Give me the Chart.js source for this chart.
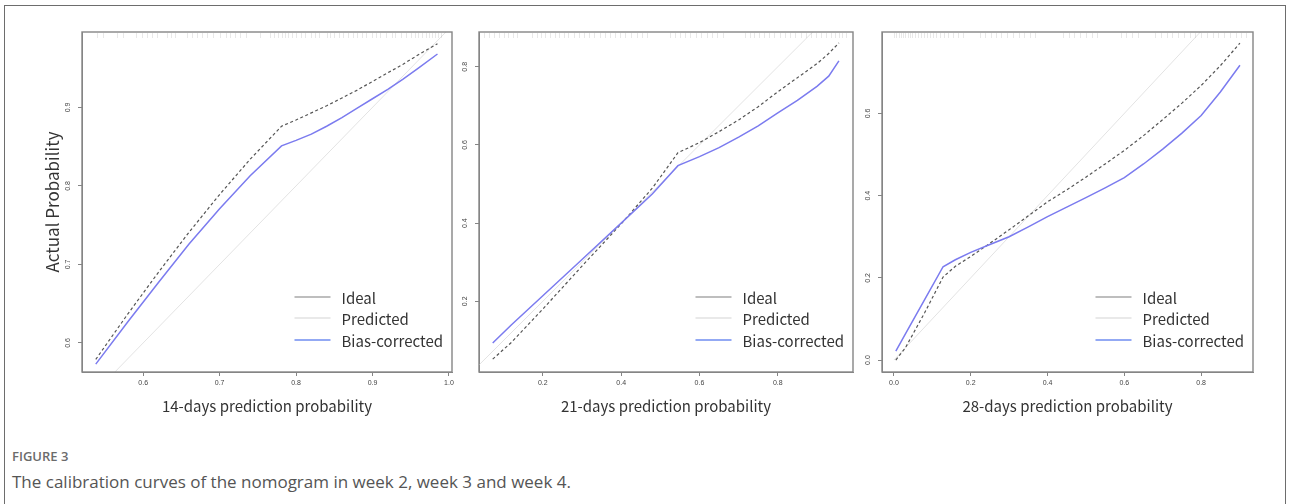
<!DOCTYPE html>
<html>
<head>
<meta charset="utf-8">
<script src="https://cdn.jsdelivr.net/npm/chart.js@4.4.1/dist/chart.umd.min.js"></script>
<style>
    body { margin: 0; background: #fff; width: 1290px; height: 504px; overflow: hidden; position: relative; font-family: "Open Sans", sans-serif; }
    .frame { position: absolute; left: 4px; top: 5px; width: 1280px; height: 540px; border: 1px solid #6d6d6d; }
    canvas { position: absolute; top: 0; }
    #week2 { left: 0; }
    #week3 { left: 440px; }
    #week4 { left: 855px; }
    .fig { position: absolute; left: 12px; top: 447px; font-size: 13px; font-weight: 600; color: #6b6b6b; }
    .cap { position: absolute; left: 12px; top: 470px; font-size: 17px; color: #555; }
</style>
</head>
<body>
<div class="frame"></div>
<canvas id="week2" width="462" height="420"></canvas>
<canvas id="week3" width="425" height="420"></canvas>
<canvas id="week4" width="420" height="420"></canvas>
<div class="fig">FIGURE 3</div>
<div class="cap">The calibration curves of the nomogram in week 2, week 3 and week 4.</div>

<script>
const legendLabels = ["Ideal", "Predicted", "Bias-corrected"];
const predictedLine = [0, 1];

// week 2 (14 days)
const week2Prob = [0.538, 0.58, 0.62, 0.66, 0.70, 0.74, 0.781, 0.80, 0.82, 0.84, 0.86, 0.88, 0.90, 0.92, 0.94, 0.96, 0.985];
const week2Ideal = [0.579, 0.637, 0.690, 0.741, 0.789, 0.834, 0.876, 0.884, 0.893, 0.902, 0.912, 0.922, 0.933, 0.944, 0.955, 0.967, 0.981];
const week2Bias = [0.573, 0.627, 0.677, 0.726, 0.771, 0.813, 0.851, 0.858, 0.866, 0.876, 0.887, 0.899, 0.911, 0.923, 0.936, 0.950, 0.968];
const week2XTicks = [0.6, 0.7, 0.8, 0.9, 1.0];
const week2YTicks = [0.6, 0.7, 0.8, 0.9];
const week2Rug = [0.540, 0.548, 0.566, 0.574, 0.590, 0.598, 0.605, 0.612, 0.618, 0.631, 0.637, 0.641, 0.658, 0.664,
    0.670, 0.677, 0.683, 0.692, 0.700, 0.709, 0.714, 0.720, 0.727, 0.735, 0.753, 0.766, 0.771, 0.776, 0.781, 0.786,
    0.790, 0.795, 0.800, 0.806, 0.812, 0.820, 0.825, 0.830, 0.840, 0.845, 0.850, 0.856, 0.862, 0.868, 0.875, 0.880,
    0.886, 0.892, 0.900, 0.905, 0.910, 0.918, 0.925, 0.930, 0.937, 0.944, 0.950, 0.955, 0.960, 0.965, 0.970, 0.974,
    0.978, 0.982, 0.986, 0.990];

// week 3 (21 days)
const week3Prob = [0.072, 0.12, 0.2, 0.3, 0.4, 0.48, 0.545, 0.6, 0.65, 0.7, 0.75, 0.8, 0.85, 0.9, 0.93, 0.956];
const week3Ideal = [0.052, 0.095, 0.180, 0.290, 0.398, 0.490, 0.580, 0.606, 0.634, 0.664, 0.698, 0.736, 0.772, 0.808, 0.834, 0.861];
const week3Bias = [0.093, 0.140, 0.214, 0.307, 0.400, 0.475, 0.547, 0.570, 0.593, 0.620, 0.649, 0.682, 0.714, 0.750, 0.776, 0.815];
const week3XTicks = [0.2, 0.4, 0.6, 0.8];
const week3YTicks = [0.2, 0.4, 0.6, 0.8];
const week3Rug = [0.050, 0.062, 0.075, 0.088, 0.100, 0.112, 0.125, 0.135, 0.172, 0.185, 0.196, 0.205, 0.218, 0.230,
    0.242, 0.255, 0.265, 0.280, 0.292, 0.305, 0.318, 0.330, 0.345, 0.360, 0.372, 0.385, 0.398, 0.410, 0.425, 0.440,
    0.452, 0.465, 0.525, 0.538, 0.550, 0.563, 0.575, 0.590, 0.605, 0.618, 0.632, 0.645, 0.660, 0.715, 0.728, 0.740,
    0.752, 0.765, 0.778, 0.790, 0.805, 0.818, 0.830, 0.845, 0.860, 0.872, 0.885, 0.898, 0.910, 0.922, 0.935, 0.945,
    0.955, 0.965, 0.975];

// week 4 (28 days)
const week4Prob = [0.005, 0.03, 0.08, 0.128, 0.16, 0.2, 0.25, 0.3, 0.35, 0.4, 0.45, 0.5, 0.55, 0.6, 0.65, 0.7, 0.75, 0.8, 0.85, 0.901];
const week4Ideal = [0.0, 0.03, 0.115, 0.202, 0.228, 0.252, 0.284, 0.317, 0.351, 0.385, 0.414, 0.445, 0.477, 0.510, 0.546, 0.585, 0.625, 0.668, 0.716, 0.771];
const week4Bias = [0.022, 0.064, 0.147, 0.227, 0.244, 0.262, 0.281, 0.300, 0.324, 0.349, 0.372, 0.395, 0.419, 0.444, 0.477, 0.513, 0.552, 0.595, 0.652, 0.717];
const week4XTicks = [0.0, 0.2, 0.4, 0.6, 0.8];
const week4YTicks = [0.0, 0.2, 0.4, 0.6];
const week4Rug = [0.000, 0.006, 0.012, 0.018, 0.024, 0.030, 0.036, 0.042, 0.048, 0.055, 0.062, 0.070, 0.078, 0.086,
    0.094, 0.102, 0.110, 0.120, 0.130, 0.142, 0.155, 0.168, 0.180, 0.225, 0.238, 0.252, 0.266, 0.280, 0.295, 0.310,
    0.325, 0.340, 0.355, 0.368, 0.440, 0.455, 0.470, 0.485, 0.500, 0.515, 0.530, 0.590, 0.605, 0.620, 0.635, 0.680,
    0.695, 0.710, 0.725, 0.740, 0.755, 0.770, 0.785, 0.800, 0.815, 0.830, 0.845, 0.860, 0.875, 0.890, 0.905, 0.918];

const toPoints = (xs, ys) => xs.map((x, i) => ({ x: x, y: ys[i] }));

// rug marks, plot box and the legend inside the plot
const calibPlugin = {
    id: "calib",
    afterDatasetsDraw(chart, args, opts) {
        const { ctx, chartArea: area, scales } = chart;
        ctx.save();
        ctx.strokeStyle = "rgba(150,150,150,0.22)";
        ctx.lineWidth = 1;
        opts.rug.forEach(v => {
            const px = Math.round(scales.x.getPixelForValue(v)) + 0.5;
            ctx.beginPath();
            ctx.moveTo(px, area.top + 1);
            ctx.lineTo(px, area.top + 6);
            ctx.stroke();
        });

        ctx.strokeStyle = "#858585";
        ctx.lineWidth = 1.4;
        ctx.strokeRect(area.left, area.top, area.right - area.left, area.bottom - area.top);

        ctx.font = '15px "Noto Sans CJK SC", "Noto Sans", sans-serif';
        ctx.textBaseline = "middle";
        ctx.textAlign = "left";
        const widest = Math.max(...legendLabels.map(t => ctx.measureText(t).width));
        const textX = area.right - 9 - widest;
        const rows = [75, 54, 32];
        const swatch = ["#a8a8a8", "#e2e2e2", "#6f8cf0"];
        legendLabels.forEach((label, i) => {
            const y = area.bottom - rows[i];
            ctx.strokeStyle = swatch[i];
            ctx.lineWidth = 1.5;
            ctx.beginPath();
            ctx.moveTo(textX - 47, y);
            ctx.lineTo(textX - 11, y);
            ctx.stroke();
            ctx.fillStyle = "#333";
            ctx.fillText(label, textX, y + 1);
        });
        ctx.restore();
    }
};

function makeChart(id, cfg) {
    const tickFont = { family: "Liberation Sans, Arial, sans-serif", size: 7 };
    return new Chart(document.getElementById(id), {
        type: "scatter",
        data: {
            datasets: [
                {
                    label: legendLabels[0],
                    data: toPoints(cfg.prob, cfg.ideal),
                    showLine: true,
                    borderColor: "#555",
                    borderWidth: 1.2,
                    borderDash: [3, 2.5],
                    pointRadius: 0,
                    order: 1
                },
                {
                    label: legendLabels[1],
                    data: toPoints(predictedLine, predictedLine),
                    showLine: true,
                    borderColor: "#e3e3e3",
                    borderWidth: 1,
                    pointRadius: 0,
                    clip: 0,
                    order: 2
                },
                {
                    label: legendLabels[2],
                    data: toPoints(cfg.prob, cfg.bias),
                    showLine: true,
                    borderColor: "#7b7bef",
                    borderWidth: 1.5,
                    pointRadius: 0,
                    order: 0
                }
            ]
        },
        options: {
            responsive: false,
            animation: false,
            layout: { padding: { left: cfg.padLeft, right: cfg.padRight, top: 32, bottom: 0 } },
            plugins: {
                legend: { display: false },
                tooltip: { enabled: false },
                calib: { rug: cfg.rug }
            },
            scales: {
                x: {
                    type: "linear",
                    min: cfg.xRange[0],
                    max: cfg.xRange[1],
                    afterBuildTicks: s => { s.ticks = cfg.xTicks.map(v => ({ value: v })); },
                    afterFit: s => { s.height = 48; },
                    grid: { drawOnChartArea: false, drawTicks: true, tickLength: 4, color: "#858585" },
                    border: { display: true, color: "#858585", width: 1 },
                    ticks: { font: tickFont, color: "#444", padding: 3, maxRotation: 0, autoSkip: false,
                        callback: v => Number(v).toFixed(1) },
                    title: { display: true, text: cfg.xTitle, color: "#333",
                        font: { family: '"Noto Sans CJK SC", "Noto Sans", sans-serif', size: 15 },
                        padding: { top: 4, bottom: 5 } }
                },
                y: {
                    type: "linear",
                    min: cfg.yRange[0],
                    max: cfg.yRange[1],
                    afterBuildTicks: s => { s.ticks = cfg.yTicks.map(v => ({ value: v })); },
                    afterFit: s => { s.width = cfg.yWidth; },
                    grid: { drawOnChartArea: false, drawTicks: true, tickLength: 4, color: "#858585" },
                    border: { display: true, color: "#858585", width: 1 },
                    ticks: { font: tickFont, color: "#444", padding: 5, minRotation: 90, maxRotation: 90,
                        crossAlign: "center", autoSkip: false, callback: v => Number(v).toFixed(1) },
                    title: { display: !!cfg.yTitle, text: cfg.yTitle || "", color: "#333",
                        font: { family: '"Noto Sans CJK SC", "Noto Sans", sans-serif', size: 17 },
                        padding: { top: 4, bottom: 4 } }
                }
            }
        },
        plugins: [calibPlugin]
    });
}

makeChart("week2", {
    prob: week2Prob, ideal: week2Ideal, bias: week2Bias, rug: week2Rug,
    xTicks: week2XTicks, yTicks: week2YTicks,
    xRange: [0.52, 1.004], yRange: [0.563, 0.996],
    xTitle: "14-days prediction probability", yTitle: "Actual Probability",
    padLeft: 38, padRight: 10, yWidth: 44
});

makeChart("week3", {
    prob: week3Prob, ideal: week3Ideal, bias: week3Bias, rug: week3Rug,
    xTicks: week3XTicks, yTicks: week3YTicks,
    xRange: [0.037, 0.992], yRange: [0.019, 0.889],
    xTitle: "21-days prediction probability",
    padLeft: 0, padRight: 12, yWidth: 39
});

makeChart("week4", {
    prob: week4Prob, ideal: week4Ideal, bias: week4Bias, rug: week4Rug,
    xTicks: week4XTicks, yTicks: week4YTicks,
    xRange: [-0.031, 0.935], yRange: [-0.029, 0.798],
    xTitle: "28-days prediction probability",
    padLeft: 0, padRight: 22, yWidth: 27
});
</script>
</body>
</html>
